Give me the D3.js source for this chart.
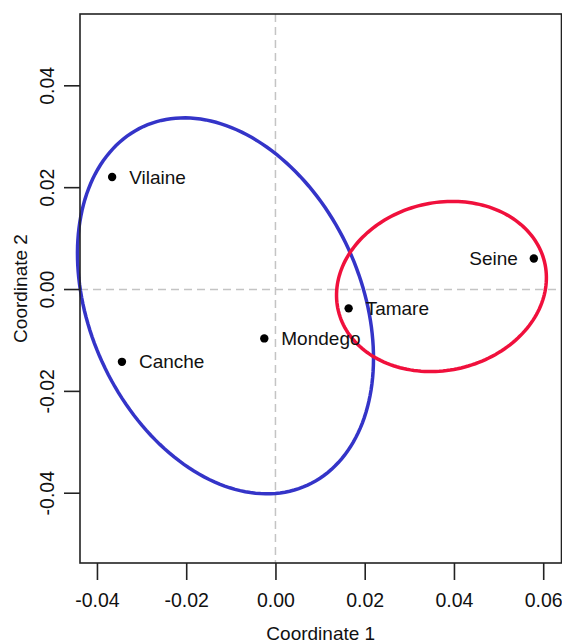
<!DOCTYPE html>
<html>
<head>
<meta charset="utf-8">
<script src="https://cdn.jsdelivr.net/npm/d3@7"></script>
<style>
  body { margin: 0; background: #fff; }
  svg { display: block; font-family: "Liberation Sans", Arial, sans-serif; }
</style>
</head>
<body>
<div id="chart"></div>
<script>
// sites (MDS coordinates)
const sites = ["Vilaine", "Canche", "Mondego", "Tamare", "Seine"];
const coord1 = [-0.0366, -0.0344, -0.0025, 0.0164, 0.0579];
const coord2 = [0.0221, -0.0142, -0.0096, -0.0037, 0.0061];
const labelSide = ["right", "right", "right", "right", "left"];

// group ellipses: centre + two semi-axis vectors, in data units
const groupNames = ["north", "south"];
const groupColors = ["#3434c8", "#f0103c"];
const ellCenter = [[-0.0112, -0.0032], [0.0372, 0.0006]];
const ellAxisA = [[0.0184, -0.0352], [0.0231, 0.0048]];
const ellAxisB = [[-0.0276, -0.0111], [0.0044, -0.0160]];

const xTicks = [-0.04, -0.02, 0.00, 0.02, 0.04, 0.06];
const yTicks = [-0.04, -0.02, 0.00, 0.02, 0.04];

const width = 562, height = 643;
const margin = {left: 80, right: 0.5, top: 14, bottom: 80};

const svg = d3.select("#chart").append("svg")
  .attr("width", width)
  .attr("height", height);

const x = d3.scaleLinear().domain([-0.0438, 0.0641])
  .range([margin.left, width - margin.right]);
const y = d3.scaleLinear().domain([-0.0537, 0.0541])
  .range([height - margin.bottom, margin.top]);

// zero reference lines
svg.append("line")
  .attr("x1", x(0)).attr("x2", x(0))
  .attr("y1", margin.top).attr("y2", height - margin.bottom)
  .attr("stroke", "#c4c4c4").attr("stroke-width", 1.5)
  .attr("stroke-dasharray", "8,5");
svg.append("line")
  .attr("x1", margin.left).attr("x2", width - margin.right)
  .attr("y1", y(0)).attr("y2", y(0))
  .attr("stroke", "#c4c4c4").attr("stroke-width", 1.5)
  .attr("stroke-dasharray", "8,5");

// ellipses
const angles = d3.range(0, 2 * Math.PI, Math.PI / 90);
const line = d3.line().curve(d3.curveLinearClosed);
groupNames.forEach((g, i) => {
  const pts = angles.map(t => {
    const dx = ellCenter[i][0] + Math.cos(t) * ellAxisA[i][0] + Math.sin(t) * ellAxisB[i][0];
    const dy = ellCenter[i][1] + Math.cos(t) * ellAxisA[i][1] + Math.sin(t) * ellAxisB[i][1];
    return [x(dx), y(dy)];
  });
  svg.append("path")
    .attr("d", line(pts))
    .attr("fill", "none")
    .attr("stroke", groupColors[i])
    .attr("stroke-width", 3.5);
});

// points + labels
sites.forEach((s, i) => {
  svg.append("circle")
    .attr("cx", x(coord1[i]))
    .attr("cy", y(coord2[i]))
    .attr("r", 4.2)
    .attr("fill", "#000");
  const left = labelSide[i] === "left";
  svg.append("text")
    .attr("x", x(coord1[i]) + (left ? -16 : 17))
    .attr("y", y(coord2[i]))
    .attr("dy", "0.35em")
    .attr("text-anchor", left ? "end" : "start")
    .attr("font-size", "19px")
    .attr("fill", "#111")
    .text(s);
});

// box
svg.append("rect")
  .attr("x", margin.left).attr("y", margin.top)
  .attr("width", width - margin.right - margin.left)
  .attr("height", height - margin.bottom - margin.top)
  .attr("fill", "none")
  .attr("stroke", "#222")
  .attr("stroke-width", 1.6);

// axes
const xAxis = svg.append("g")
  .attr("transform", `translate(0,${height - margin.bottom})`)
  .call(d3.axisBottom(x).tickValues(xTicks).tickSize(17).tickPadding(13)
    .tickFormat(d3.format(".2f")));
const yAxis = svg.append("g")
  .attr("transform", `translate(${margin.left},0)`)
  .call(d3.axisLeft(y).tickValues(yTicks).tickSize(16).tickPadding(0)
    .tickFormat(d3.format(".2f")));
[xAxis, yAxis].forEach(a => {
  a.select(".domain").remove();
  a.selectAll(".tick line").attr("stroke", "#222").attr("stroke-width", 1.6);
  a.selectAll(".tick text").attr("font-size", "19.5px").attr("fill", "#111")
    .attr("font-family", "Liberation Sans, Arial, sans-serif")
    .text(d => d3.format(".2f")(d).replace("−", "-"));
});
yAxis.selectAll(".tick").attr("transform", null);
yAxis.selectAll(".tick line").each(function(d) {
  d3.select(this).attr("y1", y(d)).attr("y2", y(d));
});
yAxis.selectAll(".tick text")
  .attr("x", 0).attr("y", 0)
  .attr("text-anchor", "middle")
  .attr("dy", "0.35em")
  .attr("transform", d => `translate(-33,${y(d)}) rotate(-90)`);

// axis titles
svg.append("text")
  .attr("x", (margin.left + width - margin.right) / 2)
  .attr("y", 633)
  .attr("dy", "0.35em")
  .attr("text-anchor", "middle")
  .attr("font-size", "19px")
  .attr("fill", "#111")
  .text("Coordinate 1");
svg.append("text")
  .attr("transform", `translate(20,${(margin.top + height - margin.bottom) / 2}) rotate(-90)`)
  .attr("dy", "0.35em")
  .attr("text-anchor", "middle")
  .attr("font-size", "19px")
  .attr("fill", "#111")
  .text("Coordinate 2");
</script>
</body>
</html>
